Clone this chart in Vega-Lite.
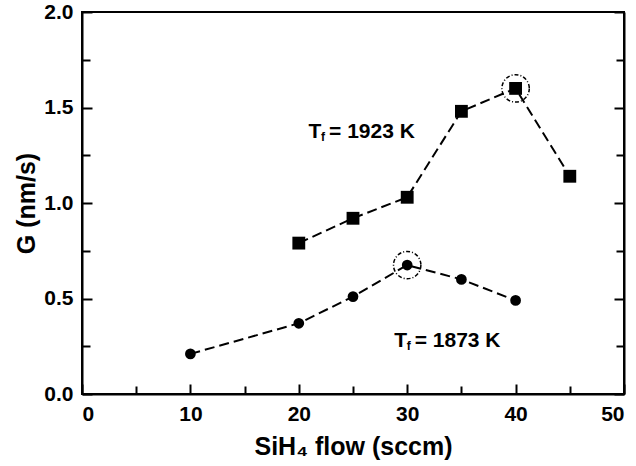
{
  "$schema": "https://vega.github.io/schema/vega-lite/v6.json",
  "width": 542,
  "height": 382,
  "autosize": {"type": "none"},
  "padding": {"left": 82, "top": 12, "right": 12, "bottom": 72},
  "background": "white",
  "config": {
    "view": {"stroke": "black", "strokeWidth": 2},
    "font": "Liberation Sans"
  },
  "datasets": {
    "pts": [
      {"flow": 20, "G": 0.79, "series": "1923 K"},
      {"flow": 25, "G": 0.92, "series": "1923 K"},
      {"flow": 30, "G": 1.03, "series": "1923 K"},
      {"flow": 35, "G": 1.48, "series": "1923 K"},
      {"flow": 40, "G": 1.60, "series": "1923 K"},
      {"flow": 45, "G": 1.14, "series": "1923 K"},
      {"flow": 10, "G": 0.21, "series": "1873 K"},
      {"flow": 20, "G": 0.37, "series": "1873 K"},
      {"flow": 25, "G": 0.51, "series": "1873 K"},
      {"flow": 30, "G": 0.675, "series": "1873 K"},
      {"flow": 35, "G": 0.60, "series": "1873 K"},
      {"flow": 40, "G": 0.49, "series": "1873 K"}
    ],
    "peaks": [
      {"flow": 40, "G": 1.60},
      {"flow": 30, "G": 0.675}
    ],
    "labels": [
      {"flow": 20.9, "G": 1.37, "temp": "= 1923 K"},
      {"flow": 28.8, "G": 0.277, "temp": "= 1873 K"}
    ]
  },
  "resolve": {"axis": {"y": "independent"}},
  "layer": [
    {
      "data": {"name": "pts"},
      "mark": {"type": "line", "color": "black", "strokeWidth": 2, "strokeDash": [10, 5]},
      "encoding": {
        "x": {"field": "flow", "type": "quantitative", "scale": {"domain": [0, 50]},
          "title": "SiH₄ flow (sccm)",
          "axis": {"values": [0, 5, 10, 15, 20, 25, 30, 35, 40, 45, 50], "labelExpr": "datum.value % 10 === 0 ? datum.label : ''",
            "tickSize": {"condition": {"test": "datum.value % 10 === 0", "value": -10}, "value": -8},
            "domainColor": "black", "domainWidth": 2, "tickColor": "black", "tickWidth": 2, "grid": false,
            "labelFont": "Liberation Sans", "labelFontWeight": "bold", "labelFontSize": 21, "labelColor": "black",
            "titleFont": "Liberation Sans", "titleFontWeight": "bold", "titleFontSize": 25, "titleColor": "black",
            "labelPadding": 19, "titlePadding": 10}},
        "y": {"field": "G", "type": "quantitative", "scale": {"domain": [0, 2]},
          "title": "G (nm/s)",
          "axis": {"values": [0, 0.25, 0.5, 0.75, 1, 1.25, 1.5, 1.75, 2], "format": ".1f",
            "labelExpr": "datum.value % 0.5 === 0 ? datum.label : ''",
            "tickSize": {"condition": {"test": "datum.value % 0.5 === 0", "value": -10}, "value": -8},
            "domainColor": "black", "domainWidth": 2, "tickColor": "black", "tickWidth": 2, "grid": false,
            "labelFont": "Liberation Sans", "labelFontWeight": "bold", "labelFontSize": 21, "labelColor": "black",
            "titleFont": "Liberation Sans", "titleFontWeight": "bold", "titleFontSize": 25, "titleColor": "black",
            "labelPadding": 19, "titlePadding": 4}},
        "detail": {"field": "series"}
      }
    },
    {
      "data": {"name": "pts"},
      "mark": {"type": "point", "filled": true, "color": "black", "opacity": 1},
      "encoding": {
        "x": {"field": "flow", "type": "quantitative"},
        "y": {"field": "G", "type": "quantitative",
          "axis": {"orient": "right", "values": [0, 0.25, 0.5, 0.75, 1, 1.25, 1.5, 1.75, 2], "labels": false, "title": null,
            "domainColor": "black", "domainWidth": 2, "tickColor": "black", "tickWidth": 2, "grid": false,
            "tickSize": {"condition": {"test": "datum.value % 0.5 === 0", "value": -10}, "value": -8}}},
        "shape": {"field": "series", "type": "nominal", "scale": {"domain": ["1923 K", "1873 K"], "range": ["square", "circle"]}, "legend": null},
        "size": {"field": "series", "type": "nominal", "scale": {"domain": ["1923 K", "1873 K"], "range": [165, 115]}, "legend": null}
      }
    },
    {
      "data": {"name": "peaks"},
      "mark": {"type": "point", "shape": "circle", "filled": false, "color": "black", "strokeWidth": 1.5, "strokeDash": [4, 2, 1, 2], "size": 750, "opacity": 1},
      "encoding": {
        "x": {"field": "flow", "type": "quantitative"},
        "y": {"field": "G", "type": "quantitative", "axis": null}
      }
    },
    {
      "data": {"name": "labels"},
      "mark": {"type": "text", "text": "T", "align": "left", "baseline": "middle", "fontSize": 21, "fontWeight": "bold", "color": "black"},
      "encoding": {
        "x": {"field": "flow", "type": "quantitative"},
        "y": {"field": "G", "type": "quantitative", "axis": null}
      }
    },
    {
      "data": {"name": "labels"},
      "mark": {"type": "text", "text": "f", "align": "left", "baseline": "middle", "fontSize": 12, "fontWeight": "bold", "color": "black", "dx": 12.5, "dy": 5},
      "encoding": {
        "x": {"field": "flow", "type": "quantitative"},
        "y": {"field": "G", "type": "quantitative", "axis": null}
      }
    },
    {
      "data": {"name": "labels"},
      "mark": {"type": "text", "align": "left", "baseline": "middle", "fontSize": 21, "fontWeight": "bold", "color": "black", "dx": 20.5},
      "encoding": {
        "x": {"field": "flow", "type": "quantitative"},
        "y": {"field": "G", "type": "quantitative", "axis": null},
        "text": {"field": "temp"}
      }
    }
  ]
}
